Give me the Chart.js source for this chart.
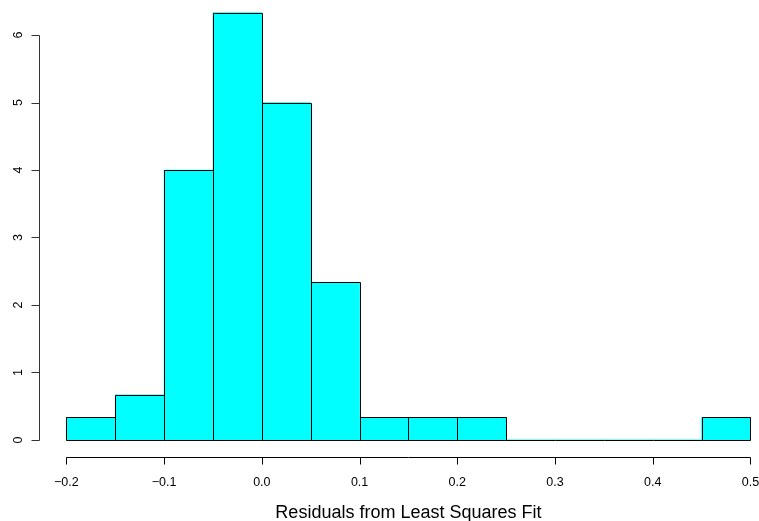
<!DOCTYPE html>
<html>
<head>
<meta charset="utf-8">
<title>Residuals histogram</title>
<script src="https://cdn.jsdelivr.net/npm/chart.js@4.4.1/dist/chart.umd.min.js"></script>
<style>
  html, body { margin: 0; padding: 0; background: #fff; }
  #wrap { width: 759px; height: 521px; position: relative; }
</style>
</head>
<body>
<div id="wrap"><canvas id="residualHist"></canvas></div>
<script>
// Histogram bins (width 0.05) and their densities
const binStarts = [-0.2, -0.15, -0.1, -0.05, 0.0, 0.05, 0.1, 0.15, 0.2, 0.25, 0.3, 0.35, 0.4, 0.45];
const binWidth = 0.05;
const densities = [1/3, 2/3, 4, 19/3, 5, 7/3, 1/3, 1/3, 1/3, 0, 0, 0, 0, 1/3];

const xTicks = [-0.2, -0.1, 0.0, 0.1, 0.2, 0.3, 0.4, 0.5];
const xTickLabels = ['-0.2', '-0.1', '0.0', '0.1', '0.2', '0.3', '0.4', '0.5'];
const yTicks = [0, 1, 2, 3, 4, 5, 6];
const xTitle = 'Residuals from Least Squares Fit';

const FONT = '"Liberation Sans", Arial, Helvetica, sans-serif';

// R-style axes: line spans first to last tick, ticks point outward
const rAxes = {
    id: 'rAxes',
    afterDatasetsDraw(chart) {
        const ctx = chart.ctx;
        const xs = chart.scales.x, ys = chart.scales.y;
        const area = chart.chartArea;
        ctx.save();

        // bar outlines, one pixel, shared edges overlap
        ctx.strokeStyle = '#000';
        ctx.lineWidth = 1;
        const meta = chart.getDatasetMeta(0);
        meta.data.forEach(bar => {
            const p = bar.getProps(['x', 'y', 'base', 'width'], true);
            const l = Math.round(p.x - p.width / 2) + 0.5;
            const r = Math.round(p.x + p.width / 2) + 0.5;
            const t = Math.round(p.y) + 0.5;
            const b = Math.round(p.base) + 0.5;
            ctx.beginPath();
            if (b - t < 0.5) {
                ctx.moveTo(l, b); ctx.lineTo(r, b);
            } else {
                ctx.rect(l, t, r - l, b - t);
            }
            ctx.stroke();
        });

        // x axis
        const xAxisY = Math.round(area.bottom) + 0.5;
        const x0 = Math.round(xs.getPixelForValue(xTicks[0])) + 0.5;
        const x1 = Math.round(xs.getPixelForValue(xTicks[xTicks.length - 1])) + 0.5;
        ctx.beginPath();
        ctx.moveTo(x0, xAxisY); ctx.lineTo(x1, xAxisY);
        xTicks.forEach(v => {
            const px = Math.round(xs.getPixelForValue(v)) + 0.5;
            ctx.moveTo(px, xAxisY); ctx.lineTo(px, xAxisY + 7);
        });
        ctx.stroke();

        ctx.fillStyle = '#000';
        ctx.font = '12.5px ' + FONT;
        ctx.textAlign = 'center';
        ctx.textBaseline = 'alphabetic';
        xTicks.forEach((v, i) => {
            ctx.fillText(xTickLabels[i].replace('-', '\u2212'), xs.getPixelForValue(v), 486);
        });

        ctx.font = '18px ' + FONT;
        ctx.fillText(xTitle, (area.left + xs.getPixelForValue(0.528)) / 2, 518);

        // y axis
        const yAxisX = Math.round(area.left) + 0.5;
        const y0 = Math.round(ys.getPixelForValue(yTicks[0])) + 0.5;
        const y1 = Math.round(ys.getPixelForValue(yTicks[yTicks.length - 1])) + 0.5;
        ctx.strokeStyle = '#333';
        ctx.beginPath();
        ctx.moveTo(yAxisX, y0); ctx.lineTo(yAxisX, y1);
        yTicks.forEach(v => {
            const py = Math.round(ys.getPixelForValue(v)) + 0.5;
            ctx.moveTo(yAxisX, py); ctx.lineTo(yAxisX - 8, py);
        });
        ctx.stroke();

        ctx.font = '12.5px ' + FONT;
        yTicks.forEach(v => {
            const py = ys.getPixelForValue(v);
            ctx.save();
            ctx.translate(22, py);
            ctx.rotate(-Math.PI / 2);
            ctx.fillText(String(v), 0, 0);
            ctx.restore();
        });

        ctx.restore();
    }
};

const ctx = document.getElementById('residualHist').getContext('2d');
new Chart(ctx, {
    type: 'bar',
    data: {
        datasets: [{
            data: binStarts.map((s, i) => ({ x: s + binWidth / 2, y: densities[i] })),
            backgroundColor: '#00FFFF',
            borderWidth: 0,
            barPercentage: 1,
            categoryPercentage: 1
        }]
    },
    options: {
        responsive: true,
        maintainAspectRatio: false,
        animation: false,
        events: [],
        layout: { padding: { left: 39, right: 0, top: 0, bottom: 64 } },
        plugins: {
            legend: { display: false },
            tooltip: { enabled: false }
        },
        scales: {
            x: {
                type: 'linear',
                display: false,
                offset: false,
                min: -0.228,
                max: 0.5087
            },
            y: {
                display: false,
                min: -0.2533,
                max: 6.519
            }
        }
    },
    plugins: [rAxes]
});
</script>
</body>
</html>
